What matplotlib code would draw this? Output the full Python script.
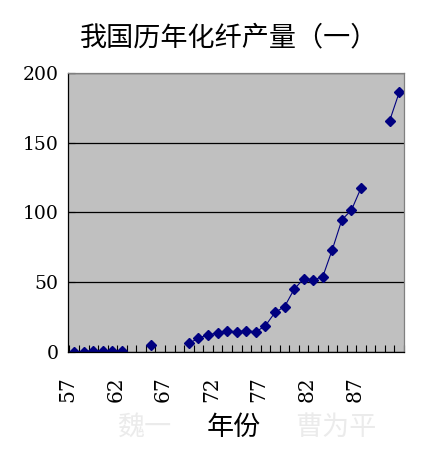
import numpy as np
import matplotlib.pyplot as plt
from matplotlib.ticker import FixedLocator, NullFormatter

plt.rcParams['font.family'] = ['Noto Sans CJK SC', 'DejaVu Sans']

# 年份 57..91, 缺失年份用 nan
years = list(range(57, 92))
output = [0.2, 0.5, 1.0, 1.1, 0.6, 1.2, np.nan, np.nan, 5.0, np.nan,
          np.nan, np.nan, 6.4, 10.1, 12.6, 13.7, 15.4, 14.6, 15.5, 14.6,
          19.0, 28.5, 32.6, 45.0, 52.7, 51.7, 54.1, 73.5, 94.8, 101.7,
          117.5, np.nan, np.nan, 165.7, 186.0]
label_years = [57, 62, 67, 72, 77, 82, 87]
y_ticks = [0, 50, 100, 150, 200]

title = "我国历年化纤产量（一）"

fig = plt.figure(figsize=(4.38, 4.63), dpi=100)
ax = fig.add_axes([0.1553, 0.2391, 0.7671, 0.6039])
ax.set_facecolor('#c0c0c0')

idx = np.arange(len(years))
ax.plot(idx, output, color='#000080', linewidth=0.8, marker='D',
        markersize=5.2, markerfacecolor='#000080', markeredgecolor='#000080')

ax.set_xlim(-0.5, len(years) - 0.5)
ax.set_ylim(0, 200)

# 横轴: 每个分类边界一个刻度, 标签放在边界上
ax.xaxis.set_minor_locator(FixedLocator(np.arange(len(years) + 1) - 0.5))
ax.xaxis.set_minor_formatter(NullFormatter())
ax.set_xticks([years.index(y) - 0.65 for y in label_years])
ax.set_xticklabels([str(y) for y in label_years], rotation=90,
                   family='DejaVu Serif', fontsize=14.5)
ax.tick_params(axis='x', which='major', length=0, pad=17)
ax.tick_params(axis='x', which='minor', direction='in', length=5,
               width=0.8, color='black')

ax.set_yticks(y_ticks)
ax.set_yticklabels([str(v) for v in y_ticks], family='DejaVu Serif', fontsize=13.5)
ax.tick_params(axis='y', direction='in', length=5, width=0.8, pad=7)

ax.grid(axis='y', color='black', linewidth=0.9)
ax.set_axisbelow(True)

for s in ['top', 'right']:
    ax.spines[s].set_color('#808080')
for s in ['bottom', 'left']:
    ax.spines[s].set_color('black')
for s in ax.spines.values():
    s.set_linewidth(0.9)

fig.text(0.523, 0.918, title, ha='center', va='center', fontsize=19.5)
fig.text(0.329, 0.076, "魏一", ha='center', va='center', fontsize=19.5, color='#ebebeb')
fig.text(0.534, 0.076, "年份", ha='center', va='center', fontsize=19.5, color='black')
fig.text(0.767, 0.076, "曹为平", ha='center', va='center', fontsize=19.5, color='#ebebeb')

fig.savefig('out.png', dpi=100)
